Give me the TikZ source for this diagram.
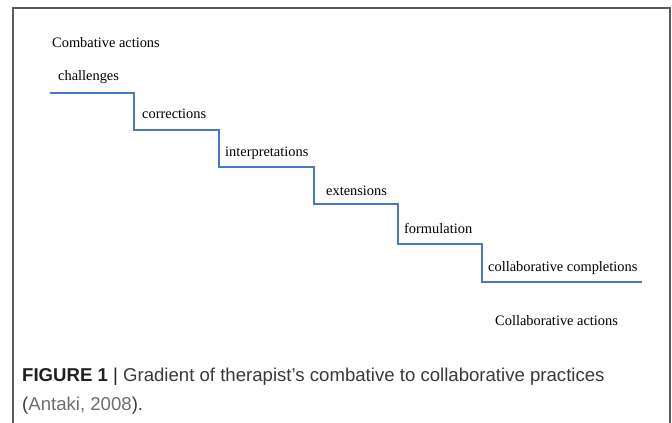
\documentclass[tikz,border=0pt]{standalone}
\usepackage{fontspec}
\setmainfont{Liberation Serif}
\newfontfamily\capfont{Liberation Sans}
\usepackage{tikz}
\definecolor{stairblue}{HTML}{4A78C8}
\definecolor{framegray}{HTML}{5A5A5A}
\definecolor{capdark}{HTML}{231F20}
\definecolor{captext}{HTML}{3A3A3A}
\definecolor{citegray}{HTML}{6E6E6E}
\tikzset{
    step_line/.style = {
        draw=stairblue,
        line width=1.3pt
    },
    frame_line/.style = {
        draw=framegray,
        line width=1.6pt
    },
    stair_label/.style = {
        anchor=base west,
        inner sep=0pt,
        font=\fontsize{14.4}{16}\selectfont
    },
    caption_text/.style = {
        anchor=base west,
        inner sep=0pt,
        text=captext,
        font=\capfont\fontsize{18.6}{20}\selectfont
    },
}

\begin{document}
\begin{tikzpicture}[x=1pt, y=-1pt]
                \useasboundingbox (0, 0) rectangle (672, 423);
                \path[fill=white] (0, 0) rectangle (672, 423);
                % frame, open at the bottom
                \path[frame_line] (13, 423) -- (13, 8) -- (670, 8) -- (670, 423);

                % staircase
                \path[step_line] (50, 93) -- (134, 93) -- (134, 130)
                    -- (219, 130) -- (219, 167)
                    -- (314, 167) -- (314, 204)
                    -- (398, 204) -- (398, 244)
                    -- (482, 244) -- (482, 282)
                    -- (642, 282);

                \node[stair_label] (combative) at (52, 47) {Combative actions};
                \node[stair_label] (challenges) at (58, 80) {challenges};
                \node[stair_label] (corrections) at (142, 118) {corrections};
                \node[stair_label] (interpretations) at (225, 156) {interpretations};
                \node[stair_label] (extensions) at (326, 195) {extensions};
                \node[stair_label] (formulation) at (404, 233) {formulation};
                \node[stair_label] (completions) at (488, 271) {collaborative completions};
                \node[stair_label] (collaborative) at (495, 325) {Collaborative actions};

                \node[caption_text] (caption) at (22, 381) {\textcolor{capdark}{\textbf{FIGURE 1} |} Gradient of therapist’s combative to collaborative practices};
                \node[caption_text] (citation) at (22, 410) {(\textcolor{citegray}{Antaki, 2008}).};
            \end{tikzpicture}
\end{document}
